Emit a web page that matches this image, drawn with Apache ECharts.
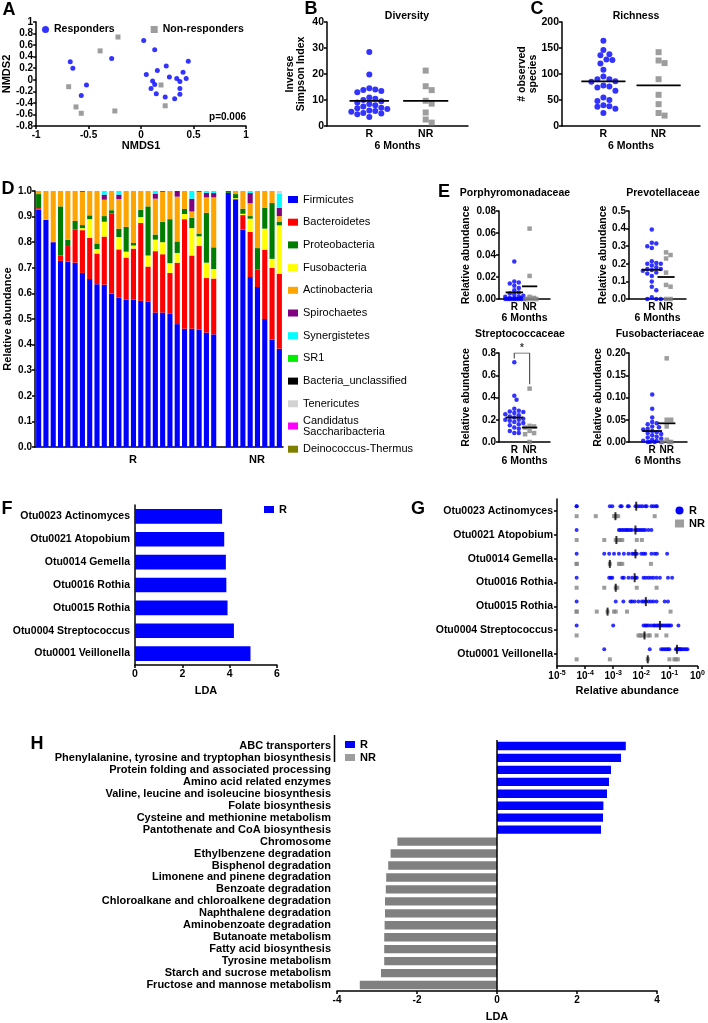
<!DOCTYPE html>
<html><head><meta charset="utf-8">
<script src="https://cdn.jsdelivr.net/npm/echarts@6/dist/echarts.min.js"></script>
<style>html,body{margin:0;padding:0;background:#fff;}#chart{width:708px;height:1023px;}</style>
</head><body><div id="chart"></div>
<script>
// ================= DATA =================
// A: NMDS ordination
const nmdsResponders = [[0.025,0.68],[0.13,0.52],[-0.28,0.37],[-0.675,0.31],[-0.65,0.20],[-0.52,-0.09],[-0.57,-0.27],[0.45,0.32],[0.24,0.24],[0.155,0.16],[0.05,0.09],[0.40,0.13],[0.27,0.05],[0.43,0.02],[0.34,0.02],[0.37,-0.03],[0.11,-0.02],[0.13,-0.08],[0.095,-0.15],[0.37,-0.15],[0.37,-0.25],[0.145,-0.24],[0.23,-0.30],[0.32,-0.33]];
const nmdsNonResponders = [[-0.22,0.74],[-0.39,0.50],[-0.69,-0.12],[-0.62,-0.47],[-0.57,-0.58],[-0.25,-0.54],[0.19,-0.09],[0.23,-0.45]];
const nmdsPValue = 'p=0.006';

// B: Diversity (inverse Simpson)
const divR = [28.5,19.8,14.5,14.0,13.8,13.5,13.0,11.0,10.5,10.0,9.5,9.0,8.5,8.0,7.5,7.0,6.8,6.5,6.0,5.8,5.5,5.0,4.8,4.5,3.5];
const divNR = [21.3,15.3,13.8,9.7,8.6,5.2,2.5,1.3];
const divMedian = [9.7, 9.7];

// C: Richness
const richR = [164,146,138,136,128,127,120,108,95,90,90,86,85,78,76,74,68,55,50,48,40,38,37,33,25];
const richNR = [142,126,121,90,60,42,25,20];
const richMedian = [86, 78];

// D: phylum relative abundance per sample (R: 25 samples, NR: 8 samples)
const phylumNames = ['Firmicutes','Bacteroidetes','Proteobacteria','Fusobacteria','Actinobacteria','Spirochaetes','Synergistetes','SR1','Bacteria_unclassified','Tenericutes','Candidatus\nSaccharibacteria','Deinococcus-Thermus'];
const phylumColors = ['#0000ff','#ff0000','#007d00','#ffff00','#ffa500','#800080','#00ffff','#00ee00','#000000','#d3d3d3','#ff00ff','#808000'];
const stackOrder = ['Firmicutes','Bacteroidetes','Fusobacteria','Proteobacteria','Actinobacteria','Spirochaetes','Synergistetes','SR1','Bacteria_unclassified','Tenericutes','Candidatus\nSaccharibacteria','Deinococcus-Thermus'];
const firmR   = [0.927,0.888,0.80,0.727,0.725,0.72,0.68,0.656,0.636,0.634,0.60,0.583,0.576,0.576,0.571,0.568,0.525,0.525,0.52,0.48,0.462,0.462,0.458,0.447,0.44];
const bactR   = [0.006,0,0.002,0.021,0.06,0.13,0.167,0.161,0.12,0.188,0.312,0.189,0.164,0.199,0.304,0.137,0.24,0.228,0.16,0.24,0.428,0.286,0.327,0.213,0.218];
const fusoR   = [0,0,0,0,0,0,0.008,0.073,0.017,0.058,0,0.048,0.023,0.012,0.023,0.043,0.045,0.047,0.038,0.038,0.02,0.107,0.038,0.06,0.037];
const proteoR = [0.055,0,0,0.192,0.025,0.033,0.012,0.015,0.022,0.022,0.013,0.033,0.097,0.01,0.028,0.192,0.02,0.08,0.172,0.045,0.02,0.04,0.011,0.195,0.085];
const actinoR = [0.012,0.112,0.198,0.06,0.19,0.117,0.13,0.095,0.205,0.064,0.075,0.115,0.14,0.203,0.074,0.06,0.14,0.117,0.11,0.175,0.07,0.025,0.163,0.06,0.195];
const spiroR  = [0,0,0,0,0,0,0.003,0,0,0.02,0,0.018,0,0,0,0,0.02,0.003,0,0.022,0,0.05,0.003,0.018,0.017];
const synR    = [0,0,0,0,0,0,0,0,0,0.014,0,0.014,0,0,0,0,0.01,0,0,0,0,0.03,0,0.007,0.008];
const teneR   = [0,0,0,0,0,0,0,0,0,0,0,0,0,0,0,0,0,0,0,0,0,0,0,0,0];
const firmNR   = [0.993,0.968,0.85,0.664,0.625,0.50,0.42,0.384];
const bactNR   = [0,0,0.056,0.176,0.068,0.271,0.28,0.293];
const fusoNR   = [0,0.004,0.005,0.052,0,0.082,0.035,0.189];
const proteoNR = [0.007,0.016,0.02,0.01,0.084,0.082,0.218,0.013];
const actinoNR = [0,0.012,0.069,0.05,0.223,0.065,0.047,0.023];
const spiroNR  = [0,0,0,0.04,0,0,0,0.032];
const synNR    = [0,0,0,0.008,0,0,0,0.056];
const teneNR   = [0,0,0,0,0,0,0,0.01];
const zeroR = firmR.map(() => 0), zeroNR = firmNR.map(() => 0);
const phylumValues = {
  'Firmicutes':[firmR,firmNR], 'Bacteroidetes':[bactR,bactNR], 'Fusobacteria':[fusoR,fusoNR],
  'Proteobacteria':[proteoR,proteoNR], 'Actinobacteria':[actinoR,actinoNR], 'Spirochaetes':[spiroR,spiroNR],
  'Synergistetes':[synR,synNR], 'SR1':[zeroR,zeroNR], 'Bacteria_unclassified':[zeroR,zeroNR],
  'Tenericutes':[teneR,teneNR], 'Candidatus\nSaccharibacteria':[zeroR,zeroNR], 'Deinococcus-Thermus':[zeroR,zeroNR]
};

// E: family relative abundance
const porphR = [0.034,0.016,0.015,0.014,0.012,0.010,0.008,0.006,0.005,0.004,0.003,0.002,0.002,0.001,0.001,0.001,0,0,0,0,0,0,0,0,0];
const porphNR = [0.064,0.021,0.002,0.001,0,0,0,0];
const porphLine = [0.006, 0.0115];
const prevoR = [0.395,0.32,0.315,0.30,0.29,0.215,0.205,0.20,0.20,0.19,0.18,0.17,0.17,0.165,0.16,0.15,0.145,0.13,0.10,0.07,0.05,0.01,0,0,0];
const prevoNR = [0.265,0.25,0.23,0.15,0.08,0.07,0,0];
const prevoLine = [0.166, 0.125];
const strepR = [0.716,0.416,0.38,0.30,0.28,0.275,0.27,0.26,0.25,0.24,0.23,0.22,0.21,0.20,0.20,0.19,0.18,0.17,0.16,0.15,0.13,0.12,0.10,0.08,0.08];
const strepNR = [0.48,0.145,0.14,0.13,0.10,0.08,0.07,0.0];
const strepLine = [0.22, 0.13];
const strepBracket = [0.75, 0.8, 0.52]; // R leg end, top, NR leg end
const fusoFamR = [0.107,0.075,0.055,0.045,0.042,0.04,0.035,0.033,0.03,0.028,0.025,0.022,0.02,0.018,0.015,0.012,0.01,0.008,0.005,0.003,0.002,0,0,0,0];
const fusoFamNR = [0.188,0.05,0.05,0.035,0.005,0,0,0];
const fusoFamLine = [0.0246, 0.042];

// F: LEfSe OTUs
const otuLabels = ['Otu0023 Actinomyces','Otu0021 Atopobium','Otu0014 Gemella','Otu0016 Rothia','Otu0015 Rothia','Otu0004 Streptococcus','Otu0001 Veillonella'];
const otuLDA = [3.68,3.77,3.84,3.86,3.91,4.18,4.88];

// G: OTU relative abundance (log); zeros drawn at the floor value 5e-5
const otuAbundR = [
  [0.00005,0.00005,0.00076,0.00093,0.0018,0.002,0.0033,0.0036,0.0062,0.0075,0.0091,0.011,0.0139,0.0155,0.023,0.027,0.033,0.036],
  [0.00005,0.0016,0.0018,0.0021,0.0024,0.0028,0.0031,0.0035,0.0041,0.0047,0.0062,0.0069,0.0079,0.0091,0.0105,0.012,0.0139,0.018,0.023],
  [0.00005,0.00048,0.00072,0.00107,0.0016,0.0024,0.0035,0.0047,0.0054,0.0062,0.0069,0.010,0.012,0.0139,0.023,0.030,0.036,0.083],
  [0.00005,0.00072,0.00082,0.00093,0.0021,0.0024,0.0035,0.0047,0.0062,0.0069,0.012,0.0145,0.018,0.022,0.027,0.035,0.046,0.089,0.125],
  [0.00005,0.00123,0.0023,0.0041,0.0047,0.0058,0.0079,0.0105,0.012,0.0145,0.018,0.022,0.027,0.035,0.068,0.089],
  [0.00005,0.001,0.012,0.0139,0.0155,0.018,0.022,0.027,0.030,0.035,0.040,0.046,0.051,0.059,0.068,0.078,0.089,0.10,0.115,0.21],
  [0.00048,0.020,0.051,0.059,0.068,0.078,0.089,0.10,0.17,0.186,0.20,0.21,0.23,0.245,0.26,0.30,0.34,0.39,0.44]
];
const otuAbundNR = [
  [0.00005,0.00024,0.00107,0.0012,0.0013,0.0015,0.03],
  [0.00005,0.00048,0.00123,0.0016,0.0018,0.0021,0.0069,0.0105],
  [0.00005,0.00005,0.00076,0.0016,0.0018,0.0021,0.022],
  [0.00005,0.00048,0.00123,0.0014,0.0069,0.035],
  [0.00005,0.00005,0.00026,0.00063,0.00107,0.00123,0.0031,0.11],
  [0.00005,0.0079,0.0091,0.0105,0.013,0.018,0.020,0.035,0.078],
  [0.00005,0.00076,0.017,0.10,0.15,0.17,0.20]
];
const otuMedianR = [0.0066,0.0062,0.0062,0.0058,0.0145,0.046,0.186];
const otuMedianNR = [0.0012,0.0013,0.00076,0.00123,0.00063,0.013,0.017];

// H: LEfSe pathways
const pathways = ['ABC transporters','Phenylalanine, tyrosine and tryptophan biosynthesis','Protein folding and associated processing','Amino acid related enzymes','Valine, leucine and isoleucine biosynthesis','Folate biosynthesis','Cysteine and methionine metabolism','Pantothenate and CoA biosynthesis','Chromosome','Ethylbenzene degradation','Bisphenol degradation','Limonene and pinene degradation','Benzoate degradation','Chloroalkane and chloroalkene degradation','Naphthalene degradation','Aminobenzoate degradation','Butanoate metabolism','Fatty acid biosynthesis','Tyrosine metabolism','Starch and sucrose metabolism','Fructose and mannose metabolism'];
const pathLDA = [3.22,3.10,2.85,2.80,2.75,2.66,2.65,2.60,-2.49,-2.66,-2.72,-2.77,-2.78,-2.80,-2.80,-2.81,-2.82,-2.82,-2.82,-2.90,-3.43];

// ================= BUILD =================
const BLUE = '#0000ff', GRAY = '#858585';
const FF = 'Liberation Sans';
function ts(size, weight){ return {color:'#000', fontFamily:FF, fontWeight: weight || 'bold', fontSize:size}; }
const AXL = {show:true, onZero:false, lineStyle:{color:'#000', width:1.5}};
const TCK = {show:true, length:3, lineStyle:{color:'#000', width:1.5}};
const NOSPLIT = {show:false};
const grids=[], xAxes=[], yAxes=[], series=[], legends=[], graphics=[];
function addGrid(g){ grids.push(g); return grids.length-1; }
function addX(a){ xAxes.push(a); return xAxes.length-1; }
function addY(a){ yAxes.push(a); return yAxes.length-1; }
function text(x, y, s, size, opts){
  graphics.push(Object.assign({type:'text', x:x, y:y, silent:true,
    style:Object.assign({text:s, fill:'#000', font:'bold '+size+'px "'+FF+'"', textAlign:'center', textVerticalAlign:'middle'}, (opts||{}).style || {})},
    (opts||{}).el || {}));
}

function swarm(vals, center, yMax, hPx, wPx, d, capPx){
  const idx = vals.map((v,i)=>i).sort((a,b)=>vals[b]-vals[a]);
  const placed = [], out = new Array(vals.length);
  const n = Math.max(1, Math.floor(capPx/(d/2)));
  for (const i of idx){
    const py = vals[i]/yMax*hPx;
    let chosen = null, bestOff = 0, bestMin = -1;
    for (let t=0; t<=2*n; t++){
      const off = (t===0 ? 0 : (t%2 ? 1 : -1)*Math.ceil(t/2)) * d/2;
      let mn = Infinity;
      for (const p of placed){ const dd = Math.hypot(p[0]-off, p[1]-py); if (dd < mn) mn = dd; }
      if (mn >= d*0.95){ chosen = off; break; }
      if (mn > bestMin){ bestMin = mn; bestOff = off; }
    }
    const off = chosen === null ? bestOff : chosen;
    placed.push([off, py]);
    out[i] = [center + off/wPx, vals[i]];
  }
  return out;
}

function dotPanel(o){
  const g = addGrid({left:o.left, top:o.top, width:o.width, height:o.height});
  const near = (v,c) => Math.abs(v-c) < 1e-6;
  const xi = addX({gridIndex:g, type:'value', min:0, max:1, interval:0.05, axisLine:AXL, axisTick:{show:false}, splitLine:NOSPLIT,
    axisLabel:Object.assign(ts(o.lab), {margin:3, formatter: v => near(v,o.rC) ? 'R' : (near(v,o.nrC) ? 'NR' : '')}),
    name:'6 Months', nameLocation:'middle', nameGap:o.xGap, nameTextStyle:ts(o.nameSize)});
  const yi = addY({gridIndex:g, type:'value', min:0, max:o.yMax, interval:o.yInt, axisLine:AXL, axisTick:TCK, splitLine:NOSPLIT,
    axisLabel:Object.assign(ts(o.lab), {margin:3, formatter:o.yFmt}),
    name:o.yName, nameLocation:'middle', nameGap:o.yGap, nameMoveOverlap:false,
    nameTextStyle:Object.assign(ts(o.nameSize), {lineHeight:o.nameSize+1})});
  series.push({type:'scatter', name:o.id+' R', xAxisIndex:xi, yAxisIndex:yi, symbol:'circle', symbolSize:o.sym, itemStyle:{color:BLUE}, z:3,
    data: swarm(o.rVals, o.rC, o.yMax, o.height, o.width, o.sym, o.rCap)});
  series.push({type:'scatter', name:o.id+' NR', xAxisIndex:xi, yAxisIndex:yi, symbol:'rect', symbolSize:o.sym, itemStyle:{color:GRAY}, z:3,
    data: swarm(o.nrVals, o.nrC, o.yMax, o.height, o.width, o.sym, o.nrCap)});
  series.push({type:'line', xAxisIndex:xi, yAxisIndex:yi, symbol:'none', silent:true, z:4, lineStyle:{color:'#000', width:1.8},
    data:[[o.rC-o.rHalf, o.lines[0]],[o.rC+o.rHalf, o.lines[0]]]});
  series.push({type:'line', xAxisIndex:xi, yAxisIndex:yi, symbol:'none', silent:true, z:4, lineStyle:{color:'#000', width:1.8},
    data:[[o.nrC-o.nrHalf, o.lines[1]],[o.nrC+o.nrHalf, o.lines[1]]]});
  return {g, xi, yi};
}

// ---------- Panel A ----------
const gA = addGrid({left:36, top:22, width:210, height:104});
const xA = addX({gridIndex:gA, type:'value', min:-1, max:1, interval:0.5, axisLine:AXL, axisTick:TCK, splitLine:NOSPLIT,
  axisLabel:Object.assign(ts(10), {margin:4}), name:'NMDS1', nameLocation:'middle', nameGap:14, nameTextStyle:ts(11)});
const yA = addY({gridIndex:gA, type:'value', min:-0.8, max:1, interval:0.2, axisLine:AXL, axisTick:TCK, splitLine:NOSPLIT,
  axisLabel:Object.assign(ts(10), {margin:3}), name:'NMDS2', nameLocation:'middle', nameGap:24, nameTextStyle:ts(11)});
series.push({type:'scatter', name:'Responders', xAxisIndex:xA, yAxisIndex:yA, symbol:'circle', symbolSize:5, itemStyle:{color:BLUE}, data:nmdsResponders});
series.push({type:'scatter', name:'Non-responders', xAxisIndex:xA, yAxisIndex:yA, symbol:'rect', symbolSize:5, itemStyle:{color:GRAY}, data:nmdsNonResponders});
legends.push({left:37, top:19, itemWidth:7, itemHeight:7, itemGap:36, selectedMode:false, textStyle:ts(10.5),
  data:[{name:'Responders', icon:'circle'}, {name:'Non-responders', icon:'rect'}]});
text(246, 117, nmdsPValue, 10, {style:{textAlign:'right'}});

// ---------- Panel B ----------
dotPanel({id:'B', left:327, top:22, width:141, height:104, yMax:40, yInt:10, yFmt: v => String(v), rC:0.3, nrC:0.7,
  rVals:divR, nrVals:divNR, lines:divMedian, sym:6, rCap:20, nrCap:14, rHalf:0.14, nrHalf:0.16,
  yName:'Inverse\nSimpson Index', yGap:20, xGap:13, lab:10.5, nameSize:10.5});
text(407, 16, 'Diversity', 10.5);

// ---------- Panel C ----------
dotPanel({id:'C', left:562, top:22, width:138, height:104, yMax:200, yInt:50, yFmt: v => String(v), rC:0.3, nrC:0.7,
  rVals:richR, nrVals:richNR, lines:richMedian, sym:6, rCap:20, nrCap:14, rHalf:0.16, nrHalf:0.16,
  yName:'# observed\nspecies', yGap:23, xGap:13, lab:10.5, nameSize:10.5});
text(636, 16, 'Richness', 10.5);

// ---------- Panel D ----------
const dCats = firmR.map((v,i)=>'R'+(i+1)).concat(['gap']).concat(firmNR.map((v,i)=>'NR'+(i+1)));
const gD = addGrid({left:35, top:191, width:248, height:256});
const xD = addX({gridIndex:gD, type:'category', data:dCats, axisLine:AXL, axisTick:{show:false}, axisLabel:{show:false}, splitLine:NOSPLIT});
const yD = addY({gridIndex:gD, type:'value', min:0, max:1, interval:0.1, axisLine:AXL, axisTick:TCK, splitLine:NOSPLIT,
  axisLabel:Object.assign(ts(10), {margin:3, formatter: v => v.toFixed(1)}),
  name:'Relative abundance', nameLocation:'middle', nameGap:22, nameTextStyle:ts(11)});
stackOrder.forEach(nm => {
  const vals = phylumValues[nm];
  series.push({type:'bar', name:nm, stack:'phyla', xAxisIndex:xD, yAxisIndex:yD, barCategoryGap:'30%',
    itemStyle:{color: phylumColors[phylumNames.indexOf(nm)]}, data: vals[0].concat(['-']).concat(vals[1])});
});
phylumNames.forEach((nm,i) => {
  const two = nm.indexOf('\n') >= 0;
  legends.push({left:283, top: 189 + i*22.7 - (two ? 6 : 0), itemWidth:10, itemHeight:7, selectedMode:false,
    textStyle:Object.assign(ts(11,'normal'), {lineHeight:11}), data:[{name:nm, icon:'rect'}]});
});
text(133, 460, 'R', 11);
text(257, 460, 'NR', 11);

// ---------- Panel E ----------
dotPanel({id:'E1', left:499, top:211, width:51, height:88, yMax:0.08, yInt:0.02, yFmt: v => v.toFixed(2), rC:0.3, nrC:0.6,
  rVals:porphR, nrVals:porphNR, lines:porphLine, sym:4.5, rCap:9, nrCap:8, rHalf:0.17, nrHalf:0.15,
  yName:'Relative abundance', yGap:27, xGap:11, lab:10, nameSize:10.5});
dotPanel({id:'E2', left:629, top:211, width:57, height:88, yMax:0.5, yInt:0.1, yFmt: v => v.toFixed(1), rC:0.4, nrC:0.65,
  rVals:prevoR, nrVals:prevoNR, lines:prevoLine, sym:4.5, rCap:10, nrCap:8, rHalf:0.17, nrHalf:0.15,
  yName:'Relative abundance', yGap:20, xGap:11, lab:10, nameSize:10.5});
const eBL = dotPanel({id:'E3', left:499, top:353, width:51, height:89, yMax:0.8, yInt:0.2, yFmt: v => v.toFixed(1), rC:0.3, nrC:0.6,
  rVals:strepR, nrVals:strepNR, lines:strepLine, sym:4.5, rCap:9, nrCap:8, rHalf:0.17, nrHalf:0.15,
  yName:'Relative abundance', yGap:27, xGap:11, lab:10, nameSize:10.5});
dotPanel({id:'E4', left:629, top:353, width:58, height:89, yMax:0.2, yInt:0.05, yFmt: v => v.toFixed(2), rC:0.4, nrC:0.65,
  rVals:fusoFamR, nrVals:fusoFamNR, lines:fusoFamLine, sym:4.5, rCap:10, nrCap:8, rHalf:0.17, nrHalf:0.15,
  yName:'Relative abundance', yGap:25, xGap:11, lab:10, nameSize:10.5});
series.push({type:'line', xAxisIndex:eBL.xi, yAxisIndex:eBL.yi, symbol:'none', silent:true, z:4, lineStyle:{color:'#555', width:1.2},
  data:[[0.3, strepBracket[0]],[0.3, strepBracket[1]],[0.6, strepBracket[1]],[0.6, strepBracket[2]]]});
series.push({type:'scatter', xAxisIndex:eBL.xi, yAxisIndex:eBL.yi, symbolSize:0, silent:true,
  label:{show:true, position:'top', distance:0, formatter:'*', color:'#000', fontFamily:FF, fontWeight:'bold', fontSize:10},
  data:[[0.45, strepBracket[1]]]});
text(515, 193, 'Porphyromonadaceae', 10.5);
text(663, 193, 'Prevotellaceae', 10.5);
text(520, 334, 'Streptococcaceae', 10.5);
text(660, 334, 'Fusobacteriaceae', 10.5);

// ---------- Panel F ----------
const gF = addGrid({left:135, top:505, width:142, height:160});
const xF = addX({gridIndex:gF, type:'value', min:0, max:6, interval:2, axisLine:AXL, axisTick:TCK, splitLine:NOSPLIT,
  axisLabel:Object.assign(ts(10.5), {margin:4}), name:'LDA', nameLocation:'middle', nameGap:20, nameTextStyle:ts(11)});
const yF = addY({gridIndex:gF, type:'category', inverse:true, data:otuLabels, axisLine:AXL, axisTick:{show:false},
  axisLabel:Object.assign(ts(10.5), {margin:5, interval:0})});
series.push({type:'bar', name:'R', xAxisIndex:xF, yAxisIndex:yF, barCategoryGap:'36%', itemStyle:{color:BLUE}, data:otuLDA});
legends.push({left:259, top:499, itemWidth:10, itemHeight:7, selectedMode:false, textStyle:ts(11), data:[{name:'R', icon:'rect'}]});

// ---------- Panel G ----------
const gG = addGrid({left:557, top:499, width:143, height:167});
const xG = addX({gridIndex:gG, type:'log', logBase:10, min:0.00001, max:1, axisLine:AXL, axisTick:TCK, minorTick:{show:false}, splitLine:NOSPLIT,
  axisLabel:Object.assign(ts(10), {margin:4, formatter: v => '10{s|' + Math.round(Math.log10(v)) + '}',
    rich:{s:{fontSize:7, fontWeight:'bold', fontFamily:FF, color:'#000', verticalAlign:'bottom', padding:[0,0,6,0]}}}),
  name:'Relative abundance', nameLocation:'middle', nameGap:19, nameTextStyle:ts(11)});
const yGc = addY({gridIndex:gG, type:'category', inverse:true, data:otuLabels, axisLine:AXL,
  axisTick:{show:true, alignWithLabel:true, length:3, lineStyle:{color:'#000', width:1.5}}, axisLabel:Object.assign(ts(10.5), {margin:4, interval:0})});
const yGv = addY({gridIndex:gG, type:'value', min:0, max:otuLabels.length, inverse:true, show:false});
const gRpts = [], gNRpts = [], gMedR = [], gMedNR = [];
otuAbundR.forEach((arr,i) => arr.forEach(v => gRpts.push([v, i+0.3])));
otuAbundNR.forEach((arr,i) => arr.forEach(v => gNRpts.push([v, i+0.72])));
otuMedianR.forEach((v,i) => gMedR.push([v, i+0.3]));
otuMedianNR.forEach((v,i) => gMedNR.push([v, i+0.72]));
series.push({type:'scatter', name:'R', xAxisIndex:xG, yAxisIndex:yGv, symbol:'circle', symbolSize:4, itemStyle:{color:BLUE}, data:gRpts});
series.push({type:'scatter', name:'NR', xAxisIndex:xG, yAxisIndex:yGv, symbol:'rect', symbolSize:4, itemStyle:{color:GRAY}, data:gNRpts});
series.push({type:'scatter', xAxisIndex:xG, yAxisIndex:yGv, symbol:'rect', symbolSize:[2,9], itemStyle:{color:'#000'}, z:5, silent:true, data:gMedR});
series.push({type:'scatter', xAxisIndex:xG, yAxisIndex:yGv, symbol:'rect', symbolSize:[2,8], itemStyle:{color:'#000'}, z:5, silent:true, data:gMedNR});
legends.push({left:670, top:500, orient:'vertical', itemWidth:9, itemHeight:8, itemGap:2, selectedMode:false, textStyle:ts(11),
  data:[{name:'R', icon:'circle'}, {name:'NR', icon:'rect'}]});

// ---------- Panel H ----------
const gH = addGrid({left:337, top:740, width:320, height:251});
const xH = addX({gridIndex:gH, type:'value', min:-4, max:4, interval:2, axisLine:AXL, axisTick:TCK, splitLine:NOSPLIT,
  axisLabel:Object.assign(ts(10), {margin:4}), name:'LDA', nameLocation:'middle', nameGap:20, nameTextStyle:ts(11)});
const yH = addY({gridIndex:gH, type:'category', inverse:true, data:pathways, axisLine:{show:false}, axisTick:{show:false},
  axisLabel:Object.assign(ts(11), {margin:6, interval:0})});
series.push({type:'bar', name:'R', xAxisIndex:xH, yAxisIndex:yH, barCategoryGap:'30%', barGap:'-100%', itemStyle:{color:BLUE},
  data: pathLDA.map(v => v > 0 ? v : '-'),
  markLine:{silent:true, symbol:'none', label:{show:false}, lineStyle:{color:'#000', width:1.5, type:'solid'}, data:[{xAxis:0}]}});
series.push({type:'bar', name:'NR', xAxisIndex:xH, yAxisIndex:yH, barCategoryGap:'30%', barGap:'-100%', itemStyle:{color:'#808080'},
  data: pathLDA.map(v => v < 0 ? v : '-')});
legends.push({left:340, top:734, orient:'vertical', itemWidth:10, itemHeight:7, itemGap:2, selectedMode:false, textStyle:ts(11),
  data:[{name:'R', icon:'rect'}, {name:'NR', icon:'rect'}]});
graphics.push({type:'line', silent:true, shape:{x1:334.5, y1:735, x2:334.5, y2:762}, style:{stroke:'#000', lineWidth:1.5}});

// ---------- panel letters ----------
[['A',9,10],['B',311,9],['C',537,9],['D',8,189],['E',444,192],['F',7,509],['G',418,509],['H',37,744]].forEach(p => text(p[1], p[2], p[0], 18));

const chart = echarts.init(document.getElementById('chart'), null, {renderer:'canvas'});
chart.setOption({
  animation:false, backgroundColor:'#fff',
  textStyle:{fontFamily:FF},
  grid:grids, xAxis:xAxes, yAxis:yAxes, series:series, legend:legends,
  graphic:{elements:graphics}
});
</script></body></html>
